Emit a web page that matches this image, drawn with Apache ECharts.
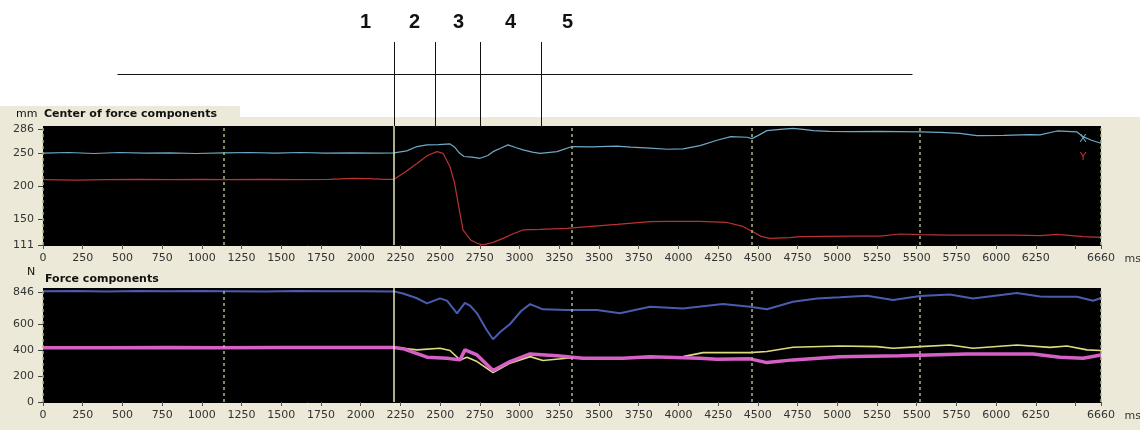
<!DOCTYPE html>
<html>
<head>
<meta charset="utf-8">
<script src="https://cdn.jsdelivr.net/npm/echarts@6/dist/echarts.min.js"></script>
<style>
  html, body { margin: 0; padding: 0; }
  body {
    width: 1140px; height: 430px; overflow: hidden;
    background:
      linear-gradient(#ece9d8, #ece9d8) 0 106px / 240px 12px no-repeat,
      linear-gradient(#ffffff 0, #ffffff 117px, #ece9d8 117px) 0 0 / 1140px 430px no-repeat;
  }
  #chart { width: 1140px; height: 430px; }
</style>
</head>
<body>
<div id="chart"></div>
<script>
// ---- time axis (ms) ----
const timeTicks = [0, 250, 500, 750, 1000, 1250, 1500, 1750, 2000, 2250, 2500, 2750, 3000,
  3250, 3500, 3750, 4000, 4250, 4500, 4750, 5000, 5250, 5500, 5750, 6000, 6250, 6500, 6660];
const timeLabels = [0, 250, 500, 750, 1000, 1250, 1500, 1750, 2000, 2250, 2500, 2750, 3000,
  3250, 3500, 3750, 4000, 4250, 4500, 4750, 5000, 5250, 5500, 5750, 6000, 6250, 6660];
const timeUnit = 'ms';
const copTicks = [111, 150, 200, 250, 286];
const forceTicks = [0, 200, 400, 600, 846];

// dotted reference times and the step onset
const gridTimes = [0, 1140, 3330, 4460, 5520, 6660];
const stepTime = 2210;

// phase markers above the plots
const phaseTimes = [2210, 2470, 2750, 3135];
const phaseLabels = ['1', '2', '3', '4', '5'];
const phaseLabelTimes = [2027, 2335, 2612, 2940, 3298];
const baselineSpan = [466, 5470];

// ---- centre of force, x component (mm) ----
const copXTimes = [0, 160, 320, 480, 640, 800, 960, 1140, 1300, 1460, 1620, 1780, 1940, 2100, 2210,
  2290, 2354, 2417, 2490, 2562, 2590, 2620, 2650, 2700, 2751, 2800, 2833, 2880, 2927, 2975, 3022,
  3080, 3129, 3236, 3330, 3450, 3613, 3700, 3821, 3930, 4029, 4136, 4243, 4330, 4432, 4463, 4500,
  4557, 4640, 4721, 4800, 4847, 4950, 5080, 5269, 5395, 5521, 5650, 5772, 5879, 6050, 6213, 6276,
  6383, 6509, 6547, 6600, 6660];
const copXValues = [249.5, 250.5, 249, 250.5, 249.5, 250, 249, 250, 250.5, 249.5, 250.5, 249.5, 250, 249.5, 250,
  253, 259.5, 262, 262.5, 263.5, 259, 250, 244.5, 243.5, 241.8, 246, 251.8, 257, 262, 258, 254.4,
  251, 249.3, 251.8, 259.5, 259, 260, 258.5, 257, 255.4, 256, 261, 269, 274.4, 273.5, 271.5, 276,
  283.5, 285.5, 287, 285, 283.5, 282.5, 282, 282.5, 282, 281.5, 281, 279.5, 276, 276.5, 277.5, 277,
  283, 281.5, 274.4, 269, 264.4];

// ---- centre of force, y component (mm) ----
const copYTimes = [0, 200, 400, 600, 800, 1000, 1140, 1400, 1600, 1800, 1950, 2050, 2150, 2210,
  2280, 2354, 2420, 2480, 2518, 2562, 2590, 2606, 2625, 2644, 2690, 2732, 2770, 2833, 2896, 2960,
  3022, 3129, 3298, 3450, 3613, 3821, 3928, 4136, 4306, 4406, 4469, 4520, 4576, 4700, 4765, 5080,
  5269, 5395, 5521, 5709, 6131, 6276, 6383, 6547, 6660];
const copYValues = [209.5, 209, 209.5, 210, 209.5, 210, 209.5, 210, 209.5, 210, 211.5, 211, 210, 210,
  221, 234, 246, 251.8, 249.3, 229, 205, 184, 158, 133.7, 119, 113.6, 111.2, 115, 121, 128,
  133.7, 134.5, 136.2, 139, 142, 146.2, 146.7, 146.5, 145, 139, 131, 124, 121, 122, 123.6, 124.5,
  124.5, 127.6, 126.5, 126, 126, 125, 127, 123.5, 122.6];

// ---- force components (N) ----
const forceZTimes = [0, 200, 400, 600, 800, 1000, 1140, 1400, 1600, 1800, 2000, 2210, 2266, 2350,
  2417, 2499, 2543, 2606, 2656, 2690, 2732, 2790, 2833, 2880, 2940, 3010, 3066, 3147, 3298, 3487,
  3632, 3821, 4029, 4280, 4450, 4557, 4721, 4872, 5017, 5187, 5351, 5521, 5709, 5854, 6131, 6276,
  6339, 6509, 6610, 6660];
const forceZValues = [852, 853, 851, 853, 852, 853, 852, 851, 853, 852, 852, 851, 835, 800,
  759, 797, 780, 682, 763, 740, 682, 560, 483, 540, 600, 700, 753, 713, 707, 707,
  682, 733, 720, 753, 733, 713, 771, 797, 805, 817, 784, 815, 827, 797, 838, 812,
  809, 810, 779, 800];

const forceATimes = [0, 400, 800, 1200, 1600, 2000, 2210, 2354, 2499, 2562, 2625, 2669, 2732, 2833,
  2940, 3066, 3147, 3298, 3651, 4029, 4155, 4450, 4557, 4721, 5017, 5250, 5351, 5521, 5709, 5854,
  6131, 6339, 6446, 6572, 6660];
const forceAValues = [418, 418, 419, 418, 420, 419, 420, 401, 414, 396, 324, 345, 311, 227,
  299, 349, 319, 337, 337, 349, 380, 380, 388, 421, 431, 426, 414, 426, 439, 414,
  439, 420, 431, 401, 396];

const forceBTimes = [0, 400, 800, 1100, 1500, 1900, 2210, 2266, 2417, 2543, 2625, 2656, 2732, 2833,
  2940, 3066, 3236, 3399, 3651, 3821, 4136, 4243, 4450, 4557, 4721, 5017, 5395, 5816, 6232, 6402,
  6547, 6660];
const forceBValues = [418, 417, 419, 418, 420, 419, 420, 410, 345, 337, 324, 401, 362, 242,
  311, 370, 355, 337, 337, 349, 337, 329, 332, 303, 324, 349, 355, 370, 370, 345,
  337, 362];

const zip = (t, v) => t.map((x, i) => [x, v[i]]);

const tickFont = { fontFamily: 'DejaVu Sans', fontSize: 11, color: '#333' };
const plain = v => String(v);

function timeAxis(gridIndex) {
  return {
    type: 'value', gridIndex, min: 0, max: 6660,
    axisLine: { show: true, lineStyle: { color: '#000', width: 1 } },
    axisTick: { show: true, customValues: timeTicks, length: 4, lineStyle: { color: '#555' } },
    axisLabel: Object.assign({ customValues: timeLabels, margin: 8, formatter: plain }, tickFont),
    splitLine: { show: false }
  };
}

function valueAxis(gridIndex, min, max, ticks) {
  return {
    type: 'value', gridIndex, min, max,
    axisLine: { show: false },
    axisTick: { show: true, customValues: ticks, length: 5, lineStyle: { color: '#444' } },
    axisLabel: Object.assign({ customValues: ticks, margin: 9, formatter: plain }, tickFont),
    splitLine: { show: false }
  };
}

const refLines = {
  silent: true, symbol: ['none', 'none'], label: { show: false }, animation: false,
  data: gridTimes.map(t => ({ xAxis: t, lineStyle: { color: '#a6b78c', type: [3, 3], width: 1.5 } }))
    .concat([{ xAxis: stepTime, lineStyle: { color: '#e8e8b6', type: 'solid', width: 1.5 } }])
};

function trace(name, xi, data, color, width, extra) {
  return Object.assign({
    name, type: 'line', xAxisIndex: xi, yAxisIndex: xi, data,
    symbol: 'none', showSymbol: false, smooth: false, animation: false,
    lineStyle: { color, width }, itemStyle: { color }
  }, extra || {});
}

const option = {
  animation: false,
  grid: [
    { left: 43, right: 39, top: 126, height: 119, show: true, backgroundColor: '#000', borderWidth: 0 },
    { left: 43, right: 39, top: 288, height: 114, show: true, backgroundColor: '#000', borderWidth: 0 }
  ],
  xAxis: [timeAxis(0), timeAxis(1)],
  yAxis: [valueAxis(0, 111, 290.5, copTicks), valueAxis(1, 0, 877, forceTicks)],
  series: [
    trace('x', 0, zip(copXTimes, copXValues), '#6eaac8', 1.2, {
      markLine: refLines,
      markPoint: {
        symbol: 'circle', symbolSize: 0, silent: true, animation: false,
        data: [{ coord: [6547, 271], label: { show: true, formatter: 'X', color: '#6eaac8', fontSize: 11, fontFamily: 'DejaVu Sans' } }]
      }
    }),
    trace('y', 0, zip(copYTimes, copYValues), '#bb3232', 1.2, {
      markPoint: {
        symbol: 'circle', symbolSize: 0, silent: true, animation: false,
        data: [{ coord: [6547, 244], label: { show: true, formatter: 'Y', color: '#c03434', fontSize: 11, fontFamily: 'DejaVu Sans' } }]
      }
    }),
    trace('Fz', 1, zip(forceZTimes, forceZValues), '#4a5cb0', 2, { markLine: refLines }),
    trace('Fa', 1, zip(forceATimes, forceAValues), '#dcdc7e', 1.6),
    trace('Fb', 1, zip(forceBTimes, forceBValues), '#d660c6', 3.5)
  ]
};

const chart = echarts.init(document.getElementById('chart'), null, { renderer: 'canvas' });
chart.setOption(option);

// phase markers, unit labels and panel captions
const px = t => Math.round(chart.convertToPixel({ xAxisIndex: 0 }, t)) + 0.5;
const ink = '#111';
const graphics = [];
phaseTimes.forEach(t => graphics.push({
  type: 'line', silent: true,
  shape: { x1: px(t), y1: 42, x2: px(t), y2: 126 },
  style: { stroke: ink, lineWidth: 1 }
}));
graphics.push({
  type: 'line', silent: true,
  shape: { x1: px(baselineSpan[0]), y1: 74.5, x2: px(baselineSpan[1]), y2: 74.5 },
  style: { stroke: ink, lineWidth: 1 }
});
phaseLabels.forEach((s, i) => graphics.push({
  type: 'text', silent: true, x: px(phaseLabelTimes[i]), y: 22,
  style: { text: s, font: 'bold 20px "Liberation Sans", Arial, sans-serif', fill: ink,
    align: 'center', verticalAlign: 'middle', textAlign: 'center', textVerticalAlign: 'middle' }
}));
const caption = (text, x, y, bold, color) => ({
  type: 'text', silent: true, x, y,
  style: { text, font: (bold ? 'bold ' : '') + '11px "DejaVu Sans", sans-serif', fill: color || '#111',
    align: 'left', verticalAlign: 'middle', textAlign: 'left', textVerticalAlign: 'middle' }
});
graphics.push(caption('mm', 16, 114, false));
graphics.push(caption('Center of force components', 44, 114, true));
graphics.push(caption('N', 27, 272, false));
graphics.push(caption('Force components', 45, 279, true));
// time unit after the last tick label of each panel
const unitX = px(6660) + 23;
const axisY0 = chart.convertToPixel({ yAxisIndex: 0 }, 111);
const axisY1 = chart.convertToPixel({ yAxisIndex: 1 }, 0);
graphics.push(caption(timeUnit, unitX, axisY0 + 14, false, '#333'));
graphics.push(caption(timeUnit, unitX, axisY1 + 14, false, '#333'));

chart.setOption({ graphic: graphics });
</script>
</body>
</html>
